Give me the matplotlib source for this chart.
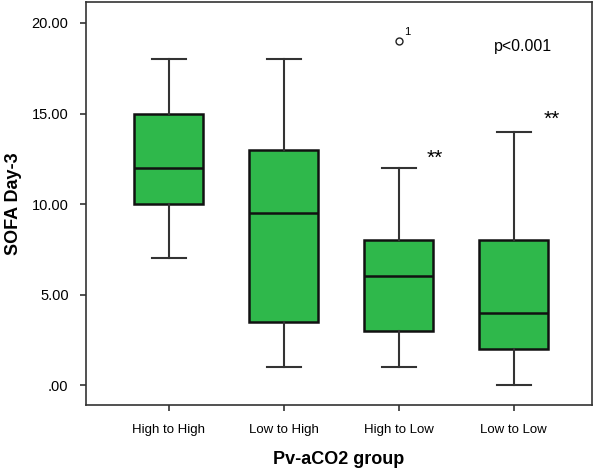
import matplotlib
matplotlib.use("Agg")
import matplotlib.pyplot as plt

plt.rcParams['font.family'] = ['Liberation Sans', 'DejaVu Sans']

groups = ["High to High", "Low to High", "High to Low", "Low to Low"]
whislo = [7, 1, 1, 0]
q1 = [10, 3.5, 3, 2]
med = [12, 9.5, 6, 4]
q3 = [15, 13, 8, 8]
whishi = [18, 18, 12, 14]
outliers = [[], [], [19], []]
outlier_ids = ["1"]
stars = ["", "", "**", "**"]
star_y = [0, 0, 12.5, 14.7]

stats = []
for i in range(len(groups)):
    stats.append(dict(label=groups[i], whislo=whislo[i], q1=q1[i], med=med[i],
                      q3=q3[i], whishi=whishi[i], fliers=outliers[i]))

fig = plt.figure(figsize=(6, 4.71), dpi=100)
ax = fig.add_axes([0.1433, 0.1401, 0.8434, 0.8557])

pos = [1, 2, 3, 4]
ax.bxp(stats, positions=pos, widths=0.6, patch_artist=True,
       boxprops=dict(facecolor='#2fb84b', edgecolor='#111111', linewidth=1.8),
       medianprops=dict(color='#111111', linewidth=1.8),
       whiskerprops=dict(color='#333333', linewidth=1.5),
       capprops=dict(color='#333333', linewidth=1.5),
       capwidths=0.3,
       flierprops=dict(marker='o', markerfacecolor='white', markeredgecolor='#222222',
                       markersize=5, markeredgewidth=1))

ax.set_xlim(0.28, 4.68)
ax.set_ylim(-1.1, 21.16)
ax.set_yticks([0, 5, 10, 15, 20])
ax.set_yticklabels([".00", "5.00", "10.00", "15.00", "20.00"], fontsize=10.5)
ax.set_xticks(pos)
ax.set_xticklabels(groups, fontsize=9.5)
ax.tick_params(direction='out', length=4.5, width=1.2, color='#333333')
ax.tick_params(axis='x', pad=9)
ax.tick_params(axis='y', pad=8)
ax.tick_params(top=False, right=False)
for s in ax.spines.values():
    s.set_linewidth(1.2)
    s.set_color('#333333')

ax.set_xlabel("Pv-aCO2 group", fontsize=13, fontweight='bold', labelpad=11)
ax.set_ylabel("SOFA Day-3", fontsize=13, fontweight='bold', labelpad=7)

# outlier case id
ax.text(3.05, 19.2, outlier_ids[0], fontsize=8, ha='left', va='bottom')
star_x = [0, 0, 3.31, 4.33]
for i, s in enumerate(stars):
    if s:
        ax.text(star_x[i], star_y[i], s, fontsize=15, ha='center', va='center')
ax.text(4.08, 18.7, "p<0.001", fontsize=11.5, ha='center', va='center')

fig.savefig("out.png", dpi=100)
